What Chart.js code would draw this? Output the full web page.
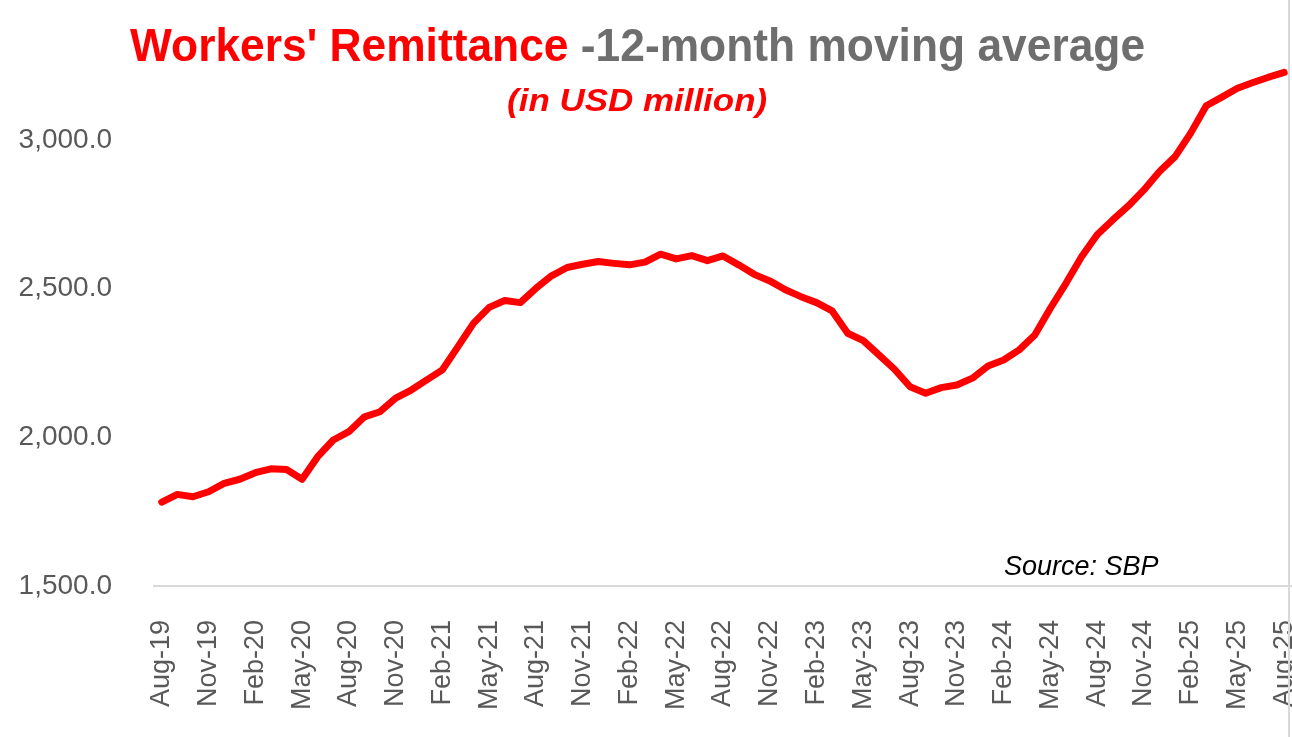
<!DOCTYPE html>
<html>
<head>
<meta charset="utf-8">
<script src="https://cdn.jsdelivr.net/npm/chart.js@4"></script>
<style>
  html, body { margin: 0; padding: 0; background: #fff; overflow: hidden; }
  #wrap { position: relative; width: 1292px; height: 737px; }
  #chart { position: absolute; left: 0; top: 0; }
  .txt { position: absolute; white-space: nowrap; font-family: "Liberation Sans", Arial, sans-serif; transform-origin: center top; }
  #title { left: 0; width: 1275px; text-align: center; top: 22px; font-size: 46px; line-height: 46px; font-weight: bold; }
  #title .red { color: #ff0000; }
  #title .grey { color: #6e6e6e; }
  #subtitle { left: 0; width: 1275px; text-align: center; top: 84px; font-size: 32px; line-height: 32px; font-weight: bold; font-style: italic; color: #ff0000; }
  #source { left: 1004px; top: 553px; font-size: 27px; line-height: 27px; font-style: italic; color: #000; }
  #frame { position: absolute; left: 1288px; top: 0; width: 2px; height: 737px; background: #d9d9d9; }
</style>
</head>
<body>
<div id="wrap">
  <canvas id="chart" width="1292" height="737"></canvas>
  <div id="frame"></div>
  <div id="title" class="txt"><span id="titleInner"><span class="red">Workers' Remittance</span> <span class="grey">-12-month moving average</span></span></div>
  <div id="subtitle" class="txt"><span id="subInner">(in USD million)</span></div>
  <div id="source" class="txt">Source: SBP</div>
</div>
<script>
// Months, Aug-19 .. Aug-25
const labels = [
    'Aug-19', 'Sep-19', 'Oct-19', 'Nov-19', 'Dec-19', 'Jan-20', 'Feb-20', 'Mar-20', 'Apr-20', 'May-20',
    'Jun-20', 'Jul-20', 'Aug-20', 'Sep-20', 'Oct-20', 'Nov-20', 'Dec-20', 'Jan-21', 'Feb-21', 'Mar-21',
    'Apr-21', 'May-21', 'Jun-21', 'Jul-21', 'Aug-21', 'Sep-21', 'Oct-21', 'Nov-21', 'Dec-21', 'Jan-22',
    'Feb-22', 'Mar-22', 'Apr-22', 'May-22', 'Jun-22', 'Jul-22', 'Aug-22', 'Sep-22', 'Oct-22', 'Nov-22',
    'Dec-22', 'Jan-23', 'Feb-23', 'Mar-23', 'Apr-23', 'May-23', 'Jun-23', 'Jul-23', 'Aug-23', 'Sep-23',
    'Oct-23', 'Nov-23', 'Dec-23', 'Jan-24', 'Feb-24', 'Mar-24', 'Apr-24', 'May-24', 'Jun-24', 'Jul-24',
    'Aug-24', 'Sep-24', 'Oct-24', 'Nov-24', 'Dec-24', 'Jan-25', 'Feb-25', 'Mar-25', 'Apr-25', 'May-25',
    'Jun-25', 'Jul-25', 'Aug-25'
];

// 12-month moving average of workers' remittances, USD million
const remittance = [
    1782, 1808, 1800, 1817, 1845, 1859, 1881, 1894, 1892, 1859,
    1935, 1991, 2019, 2069, 2086, 2132, 2159, 2193, 2227, 2305,
    2384, 2437, 2460, 2453, 2501, 2543, 2571, 2582, 2591, 2585,
    2580, 2589, 2616, 2600, 2611, 2594, 2610, 2580, 2548, 2526,
    2496, 2473, 2453, 2425, 2350, 2325, 2277, 2229, 2170, 2148,
    2167, 2176, 2199, 2240, 2260, 2294, 2344, 2434, 2518, 2607,
    2681, 2731, 2778, 2832, 2894, 2944, 3023, 3115, 3144, 3174,
    3193, 3211, 3227
];

const yTicks = [1500, 2000, 2500, 3000];

const tickColor = '#595959';

const chart = new Chart(document.getElementById('chart'), {
    type: 'line',
    data: {
        labels: labels,
        datasets: [{
            label: "Workers' Remittance",
            data: remittance,
            borderColor: '#ff0000',
            backgroundColor: '#ff0000',
            borderWidth: 7,
            borderCapStyle: 'round',
            borderJoinStyle: 'round',
            pointRadius: 0,
            tension: 0,
            fill: false
        }]
    },
    options: {
        responsive: false,
        animation: false,
        layout: { padding: { top: 10, left: 0, right: 0, bottom: 0 } },
        plugins: {
            legend: { display: false },
            tooltip: { enabled: false },
            title: { display: false }
        },
        scales: {
            x: {
                offset: true,
                grid: { display: false, drawTicks: false },
                border: { display: true, color: '#d9d9d9', width: 2 },
                ticks: {
                    autoSkip: false,
                    minRotation: 90,
                    maxRotation: 90,
                    padding: 34,
                    color: tickColor,
                    font: { family: 'Liberation Sans', size: 27 },
                    callback: function (value, index) {
                        return index % 3 === 0 ? labels[index] : '';
                    }
                },
                afterFit: function (scale) {
                    scale.height = 151;
                    scale.paddingLeft = 0;
                    scale.paddingRight = 0;
                }
            },
            y: {
                min: 1500,
                max: 3437,
                grid: { display: false, drawTicks: false },
                border: { display: false },
                ticks: {
                    padding: 42,
                    color: tickColor,
                    font: { family: 'Liberation Sans', size: 28 },
                    callback: function (value) {
                        return value.toLocaleString('en-US', { minimumFractionDigits: 1, maximumFractionDigits: 1 });
                    }
                },
                afterBuildTicks: function (scale) {
                    scale.ticks = yTicks.map(v => ({ value: v }));
                },
                afterFit: function (scale) {
                    scale.width = 154;
                    scale.paddingTop = 0;
                    scale.paddingBottom = 0;
                }
            }
        }
    }
});

// squeeze the headings to the reference widths
function fit(id, target) {
    const el = document.getElementById(id);
    const w = el.getBoundingClientRect().width;
    if (w > 0) {
        el.style.display = 'inline-block';
        el.style.transform = 'scaleX(' + (target / w) + ')';
        el.style.transformOrigin = 'center top';
    }
}
fit('titleInner', 1015);
fit('subInner', 260);
</script>
</body>
</html>
